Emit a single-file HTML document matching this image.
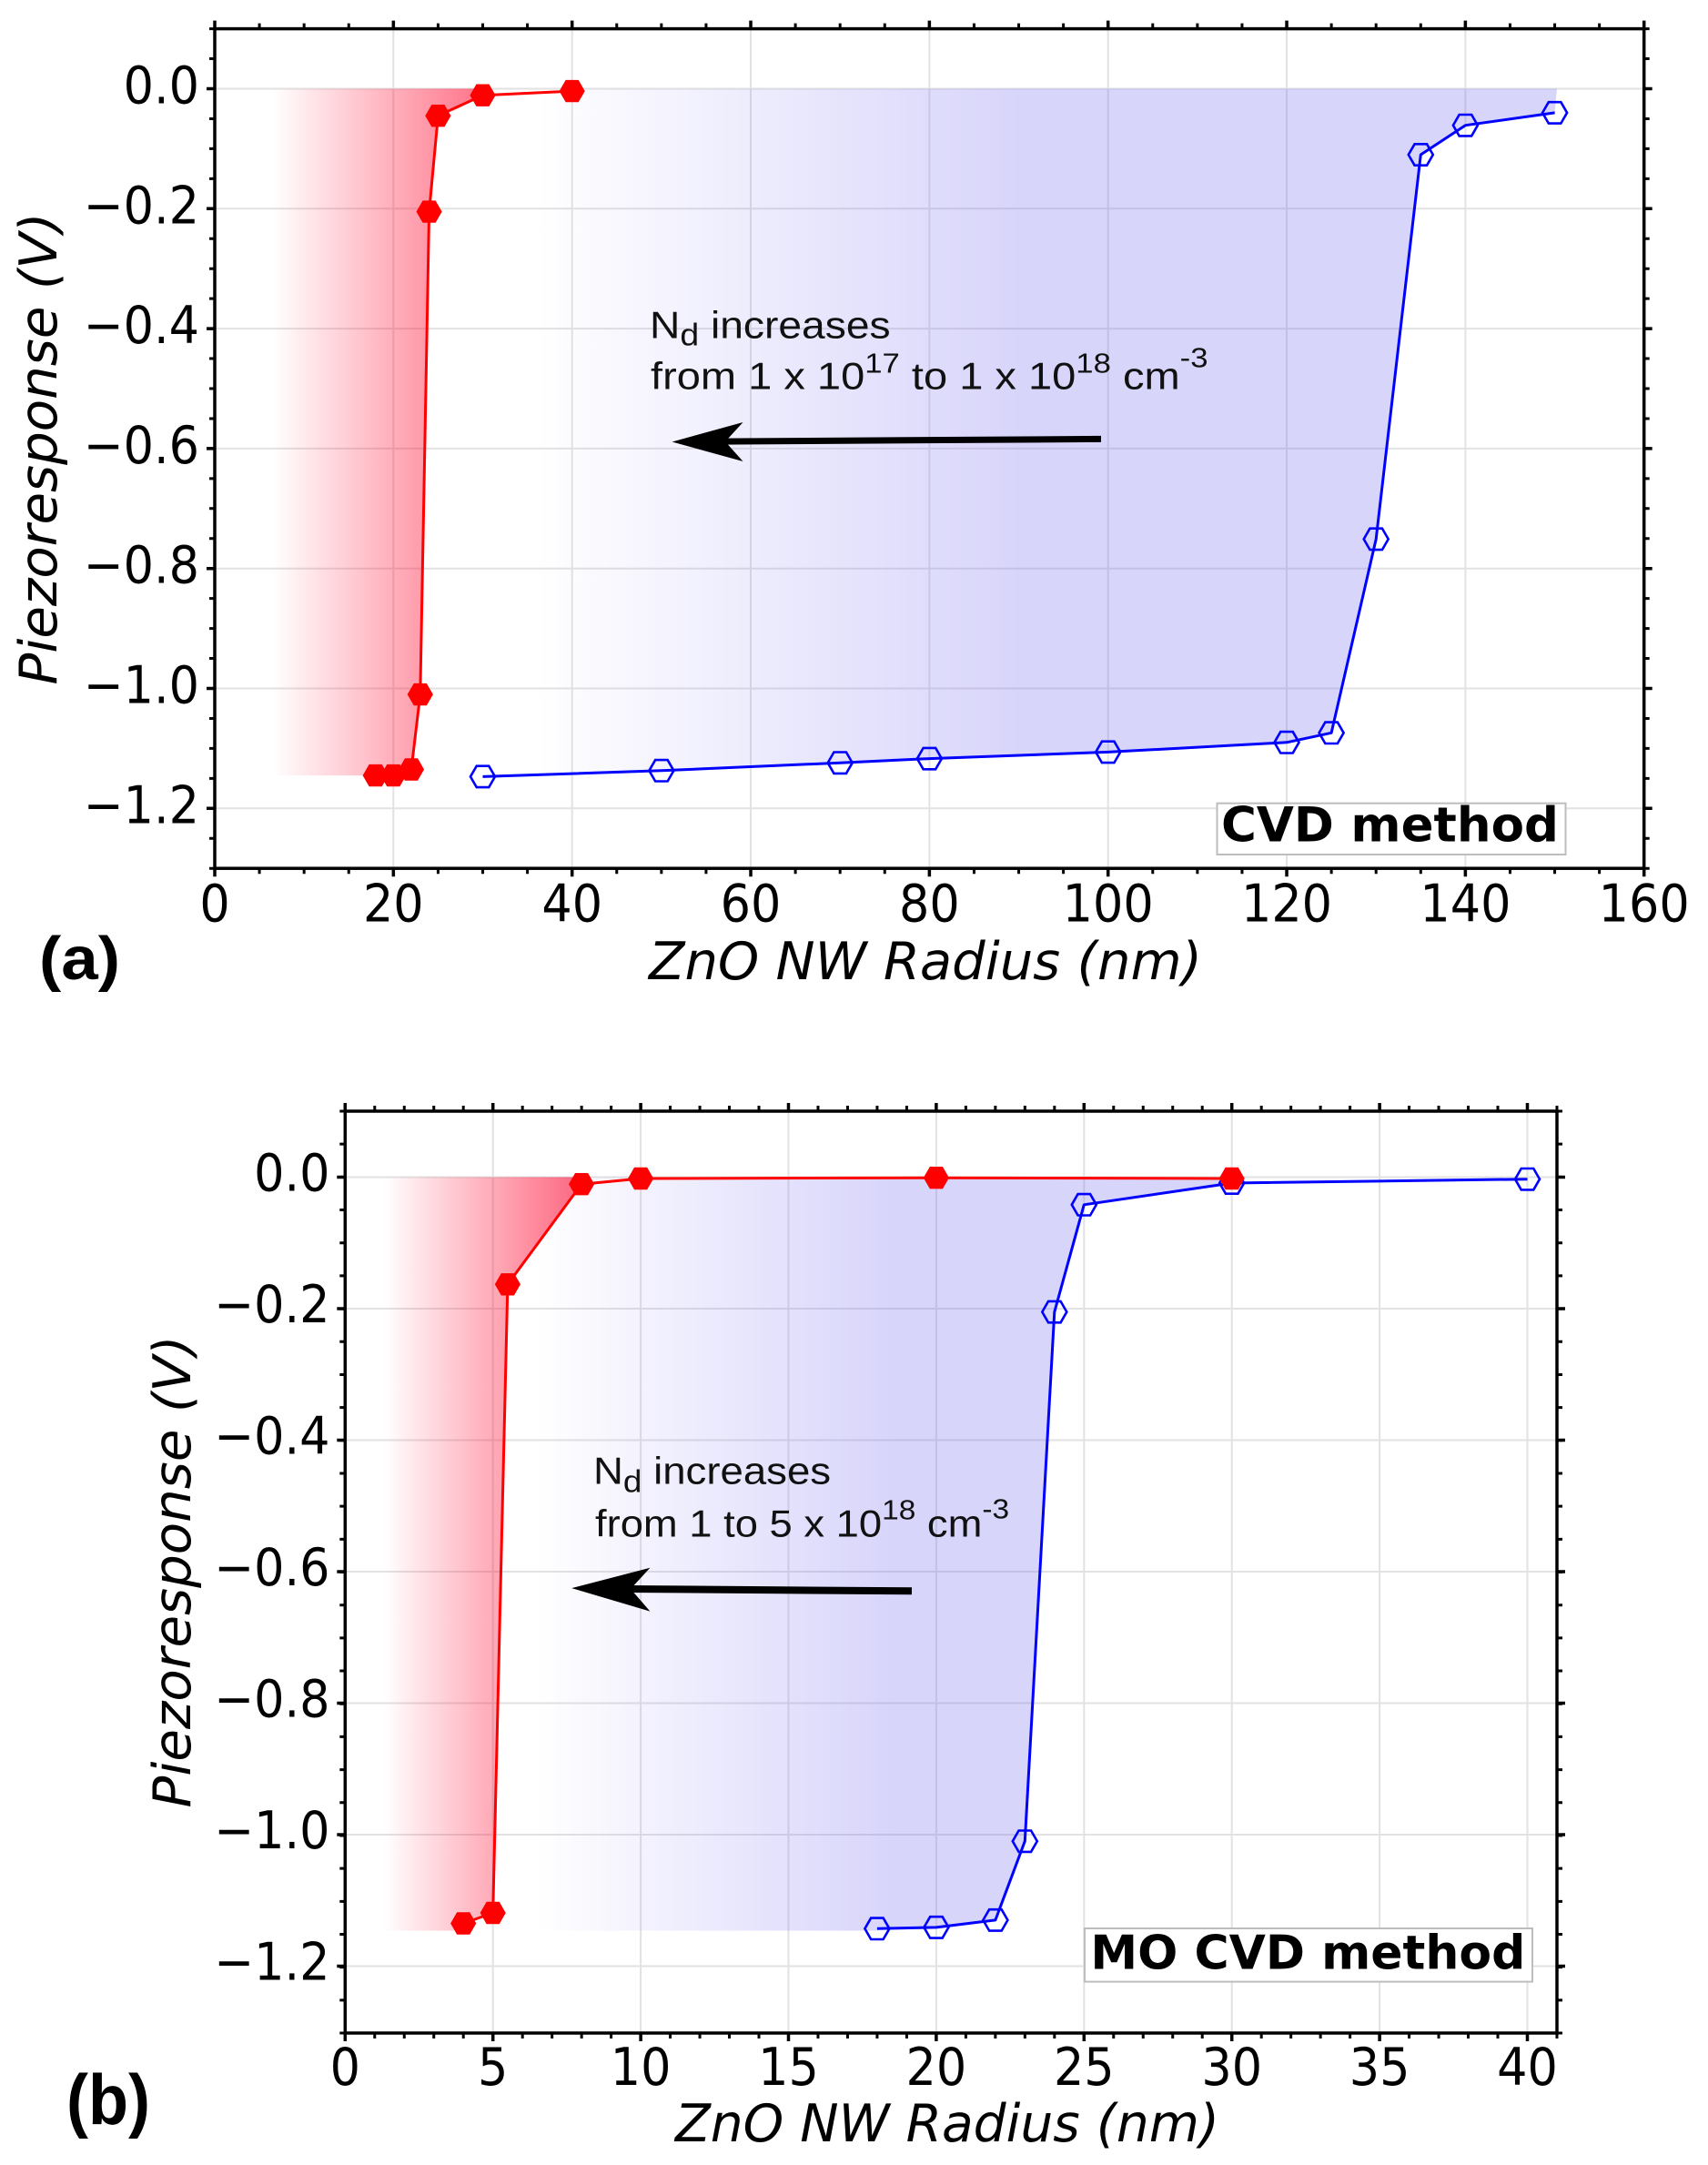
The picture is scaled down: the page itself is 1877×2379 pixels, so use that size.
<!DOCTYPE html>
<html>
<head>
<meta charset="utf-8">
<style>
html,body{margin:0;padding:0;background:#fff;}
svg{display:block;}
.tk{font-family:"DejaVu Sans","Liberation Sans",sans-serif;font-size:57px;fill:#000;}
.lab{font-family:"DejaVu Sans","Liberation Sans",sans-serif;font-size:57px;font-style:italic;fill:#000;}
.ann{font-family:"Liberation Sans","DejaVu Sans",sans-serif;font-size:42px;fill:#111;}
.box{font-family:"DejaVu Sans","Liberation Sans",sans-serif;font-weight:bold;fill:#000;}
.pl{font-family:"Liberation Sans","DejaVu Sans",sans-serif;font-weight:bold;fill:#000;}
</style>
</head>
<body>
<svg width="1877" height="2379" viewBox="0 0 1877 2379" xmlns="http://www.w3.org/2000/svg">
<defs>
<path id="hx" d="M13.5,0 L6.75,11.7 L-6.75,11.7 L-13.5,0 L-6.75,-11.7 L6.75,-11.7 Z"/>
<linearGradient id="ra" gradientUnits="userSpaceOnUse" x1="300" y1="0" x2="530.5" y2="0">
<stop offset="0" stop-color="#ff0028" stop-opacity="0"/>
<stop offset="1" stop-color="#ff0028" stop-opacity="0.55"/>
</linearGradient>
<linearGradient id="ba" gradientUnits="userSpaceOnUse" x1="589.4" y1="0" x2="1119.5" y2="0">
<stop offset="0" stop-color="rgb(120,110,240)" stop-opacity="0"/>
<stop offset="1" stop-color="rgb(120,110,240)" stop-opacity="0.29"/>
</linearGradient>
<linearGradient id="rb" gradientUnits="userSpaceOnUse" x1="421.5" y1="0" x2="639.1" y2="0">
<stop offset="0" stop-color="#ff0028" stop-opacity="0"/>
<stop offset="1" stop-color="#ff0028" stop-opacity="0.6"/>
</linearGradient>
<linearGradient id="bb" gradientUnits="userSpaceOnUse" x1="590" y1="0" x2="980" y2="0">
<stop offset="0" stop-color="rgb(120,110,240)" stop-opacity="0"/>
<stop offset="1" stop-color="rgb(120,110,240)" stop-opacity="0.29"/>
</linearGradient>
</defs>
<rect width="1877" height="2379" fill="#fff"/>

<!-- ===================== PANEL (a) ===================== -->
<g stroke="#e2e2e2" stroke-width="2">
<line x1="432.3" y1="31.6" x2="432.3" y2="954.2"/>
<line x1="628.7" y1="31.6" x2="628.7" y2="954.2"/>
<line x1="825.0" y1="31.6" x2="825.0" y2="954.2"/>
<line x1="1021.4" y1="31.6" x2="1021.4" y2="954.2"/>
<line x1="1217.7" y1="31.6" x2="1217.7" y2="954.2"/>
<line x1="1414.0" y1="31.6" x2="1414.0" y2="954.2"/>
<line x1="1610.4" y1="31.6" x2="1610.4" y2="954.2"/>
<line x1="236" y1="97.5" x2="1806.7" y2="97.5"/>
<line x1="236" y1="229.3" x2="1806.7" y2="229.3"/>
<line x1="236" y1="361.1" x2="1806.7" y2="361.1"/>
<line x1="236" y1="492.9" x2="1806.7" y2="492.9"/>
<line x1="236" y1="624.7" x2="1806.7" y2="624.7"/>
<line x1="236" y1="756.5" x2="1806.7" y2="756.5"/>
<line x1="236" y1="888.3" x2="1806.7" y2="888.3"/>
</g>

<polygon fill="url(#ra)" points="299.8,97.5 530.5,97.5 530.5,104.7 481.4,127.2 471.6,232.6 461.8,763.1 452.0,845.5 432.3,852.1 412.7,852.1 299.8,852.1"/>
<polygon fill="url(#ba)" points="481.4,97.5 1711,97.5 1708.6,123.9 1610.4,137.7 1561.3,170.0 1512.2,592.4 1463.1,805.3 1414.0,815.8 1217.7,826.4 1021.4,833.6 923.2,838.2 726.9,846.8 530.5,853.4 481.4,853.4"/>

<!-- blue series (a) -->
<polyline fill="none" stroke="#0000ff" stroke-width="3" stroke-linejoin="round" points="530.5,853.4 726.9,846.8 923.2,838.2 1021.4,833.6 1217.7,826.4 1414.0,815.8 1463.1,805.3 1512.2,592.4 1561.3,170.0 1610.4,137.7 1708.6,123.9"/>
<g fill="none" stroke="#0000ff" stroke-width="2.6">
<use href="#hx" x="530.5" y="853.4"/>
<use href="#hx" x="726.9" y="846.8"/>
<use href="#hx" x="923.2" y="838.2"/>
<use href="#hx" x="1021.4" y="833.6"/>
<use href="#hx" x="1217.7" y="826.4"/>
<use href="#hx" x="1414.0" y="815.8"/>
<use href="#hx" x="1463.1" y="805.3"/>
<use href="#hx" x="1512.2" y="592.4"/>
<use href="#hx" x="1561.3" y="170.0"/>
<use href="#hx" x="1610.4" y="137.7"/>
<use href="#hx" x="1708.6" y="123.9"/>
</g>
<!-- red series (a) -->
<polyline fill="none" stroke="#ff0000" stroke-width="3" stroke-linejoin="round" points="412.7,852.1 432.3,852.1 452.0,845.5 461.8,763.1 471.6,232.6 481.4,127.2 530.5,104.7 628.7,100.1"/>
<g fill="#ff0000" stroke="#ff0000" stroke-width="1">
<use href="#hx" x="412.7" y="852.1"/>
<use href="#hx" x="432.3" y="852.1"/>
<use href="#hx" x="452.0" y="845.5"/>
<use href="#hx" x="461.8" y="763.1"/>
<use href="#hx" x="471.6" y="232.6"/>
<use href="#hx" x="481.4" y="127.2"/>
<use href="#hx" x="530.5" y="104.7"/>
<use href="#hx" x="628.7" y="100.1"/>
</g>

<!-- annotation (a) -->
<g transform="translate(714,371.4) scale(1.1,1)"><text class="ann" x="0" y="0">N<tspan font-size="34" dy="8">d</tspan><tspan dy="-8"> increases</tspan></text></g>
<g transform="translate(715,427.6) scale(1.12,1)"><text class="ann" x="0" y="0">from 1 x 10<tspan font-size="31" dy="-18">17</tspan><tspan dy="18"> to 1 x 10</tspan><tspan font-size="31" dy="-18">18</tspan><tspan dy="18"> cm</tspan><tspan font-size="31" dy="-24">-3</tspan></text></g>
<line x1="1210" y1="482.4" x2="790" y2="485.1" stroke="#000" stroke-width="7"/>
<path d="M738.6,485.5 L816.5,464 L797,485.2 L816.5,507 Z" fill="#000"/>

<!-- CVD method box -->
<rect x="1337.5" y="882.7" width="383" height="56.3" fill="#fff" stroke="#bdbdbd" stroke-width="2"/>
<text class="box" x="1342" y="924.6" font-size="53" textLength="371" lengthAdjust="spacingAndGlyphs">CVD method</text>

<!-- spines & ticks (a) -->
<rect x="236" y="31.6" width="1570.7" height="922.6" fill="none" stroke="#000" stroke-width="3.5"/>
<g stroke="#000">
<line x1="234.5" y1="957.2" x2="1810" y2="957.2" stroke-width="6" stroke-dasharray="3 46.085"/>
<line x1="234.25" y1="958.7" x2="1810" y2="958.7" stroke-width="9" stroke-dasharray="3.5 192.84"/>
<line x1="234.5" y1="28.6" x2="1810" y2="28.6" stroke-width="6" stroke-dasharray="3 46.085"/>
<line x1="234.25" y1="27.1" x2="1810" y2="27.1" stroke-width="9" stroke-dasharray="3.5 192.84"/>
<line x1="233" y1="30.1" x2="233" y2="957" stroke-width="6" stroke-dasharray="3 29.95"/>
<line x1="231.5" y1="95.75" x2="231.5" y2="892" stroke-width="9" stroke-dasharray="3.5 128.3"/>
<line x1="1809.7" y1="30.1" x2="1809.7" y2="957" stroke-width="6" stroke-dasharray="3 29.95"/>
<line x1="1811.2" y1="95.75" x2="1811.2" y2="892" stroke-width="9" stroke-dasharray="3.5 128.3"/>
</g>

<!-- tick labels (a) -->
<g class="tk" text-anchor="end">
<text transform="translate(219,113.5) scale(0.92,1)">0.0</text>
<text transform="translate(219,245.3) scale(0.92,1)">−0.2</text>
<text transform="translate(219,377.1) scale(0.92,1)">−0.4</text>
<text transform="translate(219,508.9) scale(0.92,1)">−0.6</text>
<text transform="translate(219,640.7) scale(0.92,1)">−0.8</text>
<text transform="translate(219,772.5) scale(0.92,1)">−1.0</text>
<text transform="translate(219,904.3) scale(0.92,1)">−1.2</text>
</g>
<g class="tk" text-anchor="middle">
<text transform="translate(236,1012.5) scale(0.92,1)">0</text>
<text transform="translate(432.3,1012.5) scale(0.92,1)">20</text>
<text transform="translate(628.7,1012.5) scale(0.92,1)">40</text>
<text transform="translate(825,1012.5) scale(0.92,1)">60</text>
<text transform="translate(1021.4,1012.5) scale(0.92,1)">80</text>
<text transform="translate(1217.7,1012.5) scale(0.92,1)">100</text>
<text transform="translate(1414,1012.5) scale(0.92,1)">120</text>
<text transform="translate(1610.4,1012.5) scale(0.92,1)">140</text>
<text transform="translate(1806.7,1012.5) scale(0.92,1)">160</text>
</g>
<text class="lab" x="713" y="1076" textLength="608" lengthAdjust="spacingAndGlyphs">ZnO NW Radius (nm)</text>
<text class="lab" transform="translate(62,493) rotate(-90)" text-anchor="middle" textLength="519" lengthAdjust="spacingAndGlyphs">Piezoresponse (V)</text>
<text class="pl" x="43" y="1076" font-size="67" textLength="89" lengthAdjust="spacingAndGlyphs">(a)</text>

<!-- ===================== PANEL (b) ===================== -->
<g stroke="#e2e2e2" stroke-width="2">
<line x1="541.7" y1="1221" x2="541.7" y2="2234"/>
<line x1="704.1" y1="1221" x2="704.1" y2="2234"/>
<line x1="866.5" y1="1221" x2="866.5" y2="2234"/>
<line x1="1028.9" y1="1221" x2="1028.9" y2="2234"/>
<line x1="1191.3" y1="1221" x2="1191.3" y2="2234"/>
<line x1="1353.7" y1="1221" x2="1353.7" y2="2234"/>
<line x1="1516.1" y1="1221" x2="1516.1" y2="2234"/>
<line x1="1678.5" y1="1221" x2="1678.5" y2="2234"/>
<line x1="379.3" y1="1293.5" x2="1711" y2="1293.5"/>
<line x1="379.3" y1="1438" x2="1711" y2="1438"/>
<line x1="379.3" y1="1582.5" x2="1711" y2="1582.5"/>
<line x1="379.3" y1="1727" x2="1711" y2="1727"/>
<line x1="379.3" y1="1871.5" x2="1711" y2="1871.5"/>
<line x1="379.3" y1="2016" x2="1711" y2="2016"/>
<line x1="379.3" y1="2160.5" x2="1711" y2="2160.5"/>
</g>

<polygon fill="url(#rb)" points="421.5,1293.5 639.1,1293.5 639.1,1301.2 557.9,1411.3 541.7,2102.0 509.2,2113.5 509.2,2121.5 421.5,2121.5"/>
<polygon fill="url(#bb)" points="574.2,1293.5 1353.7,1293.5 1353.7,1300.0 1191.3,1323.8 1158.8,1441.6 1126.3,2023.2 1093.9,2109.9 1028.9,2117.9 963.9,2119.3 963.9,2121.5 574.2,2121.5"/>

<!-- blue series (b) -->
<polyline fill="none" stroke="#0000ff" stroke-width="3" stroke-linejoin="round" points="963.9,2119.3 1028.9,2117.9 1093.9,2109.9 1126.3,2023.2 1158.8,1441.6 1191.3,1323.8 1353.7,1300.0 1678.5,1295.7"/>
<g fill="none" stroke="#0000ff" stroke-width="2.6">
<use href="#hx" x="963.9" y="2119.3"/>
<use href="#hx" x="1028.9" y="2117.9"/>
<use href="#hx" x="1093.9" y="2109.9"/>
<use href="#hx" x="1126.3" y="2023.2"/>
<use href="#hx" x="1158.8" y="1441.6"/>
<use href="#hx" x="1191.3" y="1323.8"/>
<use href="#hx" x="1353.7" y="1300.0"/>
<use href="#hx" x="1678.5" y="1295.7"/>
</g>
<!-- red series (b) -->
<polyline fill="none" stroke="#ff0000" stroke-width="3" stroke-linejoin="round" points="509.2,2113.5 541.7,2102.0 557.9,1411.3 639.1,1301.2 704.1,1295.0 1028.9,1294.2 1353.7,1295.0"/>
<g fill="#ff0000" stroke="#ff0000" stroke-width="1">
<use href="#hx" x="509.2" y="2113.5"/>
<use href="#hx" x="541.7" y="2102.0"/>
<use href="#hx" x="557.9" y="1411.3"/>
<use href="#hx" x="639.1" y="1301.2"/>
<use href="#hx" x="704.1" y="1295.0"/>
<use href="#hx" x="1028.9" y="1294.2"/>
<use href="#hx" x="1353.7" y="1295.0"/>
</g>

<!-- annotation (b) -->
<g transform="translate(652,1630.3) scale(1.085,1)"><text class="ann" x="0" y="0">N<tspan font-size="34" dy="9">d</tspan><tspan dy="-9"> increases</tspan></text></g>
<g transform="translate(654,1688.4) scale(1.08,1)"><text class="ann" x="0" y="0">from 1 to 5 x 10<tspan font-size="31" dy="-19">18</tspan><tspan dy="19"> cm</tspan><tspan font-size="31" dy="-20">-3</tspan></text></g>
<line x1="1002" y1="1748.3" x2="688" y2="1746" stroke="#000" stroke-width="8"/>
<path d="M628.2,1745.1 L714.4,1722.8 L693,1746 L714.4,1770.6 Z" fill="#000"/>

<!-- MO CVD method box -->
<rect x="1192" y="2119" width="492" height="58.6" fill="#fff" stroke="#bdbdbd" stroke-width="2"/>
<text class="box" x="1198.4" y="2163.5" font-size="52" textLength="478" lengthAdjust="spacingAndGlyphs">MO CVD method</text>

<!-- spines & ticks (b) -->
<rect x="379.3" y="1221" width="1331.7" height="1013" fill="none" stroke="#000" stroke-width="3.5"/>
<g stroke="#000">
<line x1="377.8" y1="2237" x2="1713" y2="2237" stroke-width="6" stroke-dasharray="3 29.48"/>
<line x1="377.55" y1="2238.5" x2="1682" y2="2238.5" stroke-width="9" stroke-dasharray="3.5 158.9"/>
<line x1="377.8" y1="1218" x2="1713" y2="1218" stroke-width="6" stroke-dasharray="3 29.48"/>
<line x1="377.55" y1="1216.5" x2="1682" y2="1216.5" stroke-width="9" stroke-dasharray="3.5 158.9"/>
<line x1="376.3" y1="1219.5" x2="376.3" y2="2236" stroke-width="6" stroke-dasharray="3 33.18"/>
<line x1="374.8" y1="1291.75" x2="374.8" y2="2165" stroke-width="9" stroke-dasharray="3.5 141"/>
<line x1="1714" y1="1219.5" x2="1714" y2="2236" stroke-width="6" stroke-dasharray="3 33.18"/>
<line x1="1715.5" y1="1291.75" x2="1715.5" y2="2165" stroke-width="9" stroke-dasharray="3.5 141"/>
</g>

<!-- tick labels (b) -->
<g class="tk" text-anchor="end">
<text transform="translate(362.5,1308.5) scale(0.92,1)">0.0</text>
<text transform="translate(362.5,1453) scale(0.92,1)">−0.2</text>
<text transform="translate(362.5,1597.5) scale(0.92,1)">−0.4</text>
<text transform="translate(362.5,1742) scale(0.92,1)">−0.6</text>
<text transform="translate(362.5,1886.5) scale(0.92,1)">−0.8</text>
<text transform="translate(362.5,2031) scale(0.92,1)">−1.0</text>
<text transform="translate(362.5,2175.5) scale(0.92,1)">−1.2</text>
</g>
<g class="tk" text-anchor="middle">
<text transform="translate(379.3,2291) scale(0.92,1)">0</text>
<text transform="translate(541.7,2291) scale(0.92,1)">5</text>
<text transform="translate(704.1,2291) scale(0.92,1)">10</text>
<text transform="translate(866.5,2291) scale(0.92,1)">15</text>
<text transform="translate(1028.9,2291) scale(0.92,1)">20</text>
<text transform="translate(1191.3,2291) scale(0.92,1)">25</text>
<text transform="translate(1353.7,2291) scale(0.92,1)">30</text>
<text transform="translate(1516.1,2291) scale(0.92,1)">35</text>
<text transform="translate(1678.5,2291) scale(0.92,1)">40</text>
</g>
<text class="lab" x="742" y="2353" textLength="598" lengthAdjust="spacingAndGlyphs">ZnO NW Radius (nm)</text>
<text class="lab" transform="translate(209,1727) rotate(-90)" text-anchor="middle" textLength="519" lengthAdjust="spacingAndGlyphs">Piezoresponse (V)</text>
<text class="pl" x="73" y="2334" font-size="78" textLength="92" lengthAdjust="spacingAndGlyphs">(b)</text>
</svg>
</body>
</html>
